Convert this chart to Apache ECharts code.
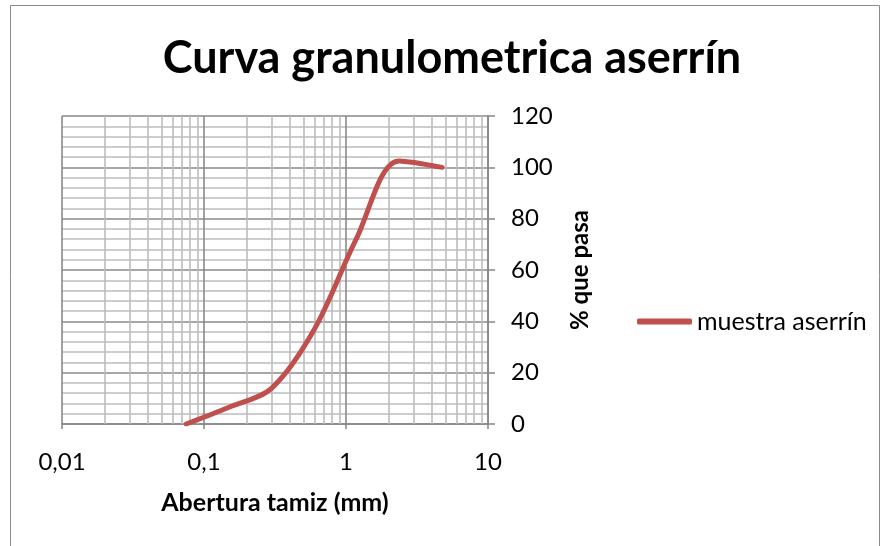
<!DOCTYPE html>
<html>
<head>
<meta charset="utf-8">
<script src="https://cdn.jsdelivr.net/npm/echarts@6/dist/echarts.min.js"></script>
<style>
html,body{margin:0;padding:0;background:#fff;}
#c{width:882px;height:546px;}
</style>
</head>
<body>
<div id="c"></div>
<script>
// Data
var sieveSizes = [0.075, 0.15, 0.3, 0.6, 1.18, 2.36, 4.75];
var percentPassing = [0, 6.5, 14, 37, 72, 102.5, 100];
var seriesName = 'muestra aserrín';
var xMinorTicks = [0.02,0.03,0.04,0.05,0.06,0.07,0.08,0.09,
                   0.2,0.3,0.4,0.5,0.6,0.7,0.8,0.9,
                   2,3,4,5,6,7,8,9];

var FONT = 'Lato';
var chart = echarts.init(document.getElementById('c'), null, {renderer:'canvas'});
var pts = sieveSizes.map(function(s,i){return [s, percentPassing[i]];});

chart.setOption({
  backgroundColor:'#ffffff',
  animation:false,
  title:{
    text:'Curva granulometrica aserrín',
    left:447, top:31, textAlign:'center',
    textStyle:{fontFamily:FONT, fontWeight:'bold', fontSize:45, color:'#000'}
  },
  graphic:[{
    type:'rect', silent:true, z:-10,
    shape:{x:10.5, y:5.5, width:869, height:580},
    style:{fill:null, stroke:'#8c8c8c', lineWidth:1}
  }],
  legend:{
    left:632, top:304,
    itemWidth:55, itemHeight:6,
    icon:'roundRect',
    data:[seriesName],
    textStyle:{fontFamily:FONT, fontSize:25, color:'#000'},
    itemStyle:{color:'#C0504D'}
  },
  grid:{left:62, right:394, top:116, bottom:122},
  xAxis:{
    type:'log', logBase:10, min:0.01, max:10,
    name:'Abertura tamiz (mm)', nameLocation:'middle', nameGap:66,
    nameTextStyle:{fontFamily:FONT, fontWeight:'bold', fontSize:25, color:'#000'},
    axisLine:{show:true, onZero:false, lineStyle:{color:'#878787', width:1.6}},
    axisTick:{show:true, length:5, inside:false, lineStyle:{color:'#878787', width:1.5}},
    axisLabel:{fontFamily:FONT, fontSize:24, color:'#000', margin:26,
      formatter:function(v){return String(v).replace('.', ',');}},
    splitLine:{show:true, lineStyle:{color:'#8a8a8a', width:1.6}},
    minorTick:{show:false}, minorSplitLine:{show:false}
  },
  yAxis:{
    type:'value', position:'right', min:0, max:120, interval:20,
    name:'% que pasa', nameLocation:'middle', nameGap:80, nameRotate:90,
    nameTextStyle:{fontFamily:FONT, fontWeight:'bold', fontSize:24, color:'#000'},
    axisLine:{show:true, lineStyle:{color:'#878787', width:1.6}},
    axisTick:{show:true, length:7, lineStyle:{color:'#878787', width:1.5}},
    axisLabel:{fontFamily:FONT, fontSize:24, color:'#000', margin:23},
    splitLine:{show:true, lineStyle:{color:'#8a8a8a', width:1.6}},
    minorTick:{show:false, splitNumber:5},
    minorSplitLine:{show:true, lineStyle:{color:'#bcbcbc', width:1.6}}
  },
  series:[
    {
      type:'line', name:'_grid', data:[[1,0]], symbol:'none', z:1,
      lineStyle:{opacity:0}, silent:true, legendHoverLink:false,
      markLine:{
        silent:true, symbol:['none','none'], animation:false,
        label:{show:false},
        lineStyle:{color:'#bcbcbc', width:1.6, type:'solid'},
        data:xMinorTicks.map(function(v){return {xAxis:v};})
      }
    },
    {
      type:'line', name:seriesName, data:pts, smooth:0.33,
      symbol:'none', z:5,
      lineStyle:{color:'#C0504D', width:5, cap:'round'},
      itemStyle:{color:'#C0504D'}
    }
  ]
});
</script>
</body>
</html>
